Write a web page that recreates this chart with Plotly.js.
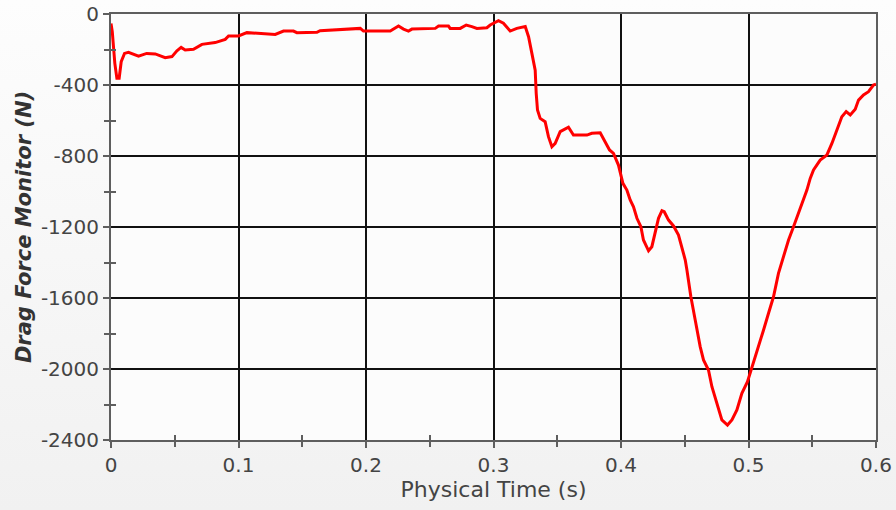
<!DOCTYPE html>
<html>
<head>
<meta charset="utf-8">
<script src="https://cdn.plot.ly/plotly-3.0.1.min.js"></script>
<style>
  html, body { margin: 0; padding: 0; }
  body { width: 896px; height: 510px; background: linear-gradient(#fdfdfd, #f1f1f1); }
  #chart { width: 896px; height: 510px; }
</style>
</head>
<body>
<div id="chart"></div>
<script>
// Drag force monitor history (N) against physical time (s)
const timeS = [
  0.000, 0.001, 0.003, 0.0046, 0.0064, 0.008, 0.0106, 0.0137, 0.0216, 0.028,
  0.0347, 0.0425, 0.0478, 0.0517, 0.055, 0.0582, 0.0647, 0.0713, 0.0817, 0.0896,
  0.0922, 0.100, 0.1066, 0.1157, 0.1288, 0.1353, 0.1431, 0.1458, 0.1523, 0.1615,
  0.164, 0.186, 0.1955, 0.198, 0.219, 0.2255, 0.2294, 0.2333, 0.236, 0.2543,
  0.2569, 0.2647, 0.266, 0.2739, 0.2786, 0.283, 0.287, 0.2948, 0.2974, 0.3039,
  0.3078, 0.3131, 0.3183, 0.3249, 0.3275, 0.3301, 0.3327, 0.3335, 0.3345, 0.3366,
  0.3405, 0.3431, 0.3458, 0.3484, 0.3523, 0.3588, 0.3627, 0.3733, 0.3771, 0.3837,
  0.3876, 0.391, 0.3941, 0.398, 0.4015, 0.4046, 0.4072, 0.4098, 0.4125, 0.4156,
  0.4176, 0.4216, 0.4242, 0.4268, 0.4294, 0.4321, 0.4339, 0.4373, 0.4412, 0.4451,
  0.4478, 0.4504, 0.4517, 0.4548, 0.4582, 0.4621, 0.4647, 0.4686, 0.4713, 0.4752,
  0.4791, 0.4835, 0.487, 0.4909, 0.4948, 0.4992, 0.5027, 0.5071, 0.5118, 0.5157,
  0.5196, 0.5235, 0.5275, 0.5314, 0.5353, 0.5392, 0.5419, 0.5458, 0.5484, 0.551,
  0.5562, 0.5615, 0.5654, 0.5693, 0.5732, 0.5766, 0.5798, 0.5837, 0.5863, 0.5902,
  0.5941, 0.598, 0.600
];
const dragForceN = [
  -53, -100, -278, -362, -362, -269, -222, -216, -237, -222,
  -225, -246, -240, -207, -188, -203, -199, -171, -161, -143,
  -124, -124, -105, -109, -115, -96, -96, -105, -105, -103,
  -94, -86, -81, -96, -96, -68, -85, -96, -85, -81,
  -68, -68, -81, -81, -62, -71, -81, -77, -62, -38,
  -52, -96, -81, -71, -128, -222, -316, -447, -541, -588,
  -607, -691, -748, -729, -663, -638, -682, -682, -672, -669,
  -719, -766, -785, -851, -954, -992, -1048, -1086, -1151, -1198,
  -1273, -1334, -1311, -1236, -1151, -1108, -1114, -1161, -1194, -1245,
  -1320, -1386, -1442, -1593, -1724, -1874, -1949, -2006, -2100, -2193,
  -2287, -2316, -2287, -2231, -2137, -2072, -1987, -1893, -1780, -1686,
  -1593, -1461, -1358, -1273, -1198, -1123, -1067, -992, -926, -879,
  -823, -794, -729, -654, -579, -550, -569, -537, -485, -456,
  -438, -400, -395
];

// Tick positions and labels
const xTickVals = [0, 0.1, 0.2, 0.3, 0.4, 0.5, 0.6];
const xTickText = ['0', '0.1', '0.2', '0.3', '0.4', '0.5', '0.6'];
const xMinorVals = [0.05, 0.15, 0.25, 0.35, 0.45, 0.55];
const yTickVals = [0, -400, -800, -1200, -1600, -2000, -2400];
const yTickText = ['0', '-400', '-800', '-1200', '-1600', '-2000', '-2400'];
const yMinorVals = [-200, -600, -1000, -1400, -1800, -2200];

const font = 'DejaVu Sans, Verdana, sans-serif';
const axisLine = '#5e5e5e';

const traces = [
  {
    x: timeS, y: dragForceN, type: 'scatter', mode: 'lines',
    line: { color: '#ff0000', width: 3 },
    hoverinfo: 'skip', showlegend: false
  },
  // empty trace that carries the inner half of the minor tick marks
  { x: [], y: [], xaxis: 'x2', yaxis: 'y2', type: 'scatter', mode: 'lines', showlegend: false }
];

const layout = {
  width: 896, height: 510,
  margin: { l: 111, r: 20, t: 14, b: 70 },
  paper_bgcolor: 'rgba(0,0,0,0)',
  plot_bgcolor: '#fcfcfc',
  showlegend: false,
  font: { family: font, size: 20, color: '#444' },
  xaxis: {
    range: [0, 0.6], fixedrange: true,
    tickvals: xTickVals, ticktext: xTickText,
    ticks: 'outside', ticklen: 6, tickwidth: 2, tickcolor: axisLine,
    minor: { tickvals: xMinorVals, ticks: 'outside', ticklen: 5, tickwidth: 2, tickcolor: axisLine, showgrid: false },
    showgrid: true, gridcolor: '#111', gridwidth: 2,
    showline: true, linecolor: axisLine, linewidth: 2, mirror: true,
    zeroline: false,
    tickfont: { family: font, size: 20, color: '#444' },
    title: { text: 'Physical Time (s)', font: { family: font, size: 22, color: '#444' }, standoff: 6 }
  },
  yaxis: {
    range: [-2400, 0], fixedrange: true,
    tickvals: yTickVals, ticktext: yTickText,
    ticks: 'outside', ticklen: 6, tickwidth: 2, tickcolor: axisLine,
    minor: { tickvals: yMinorVals, ticks: 'outside', ticklen: 5, tickwidth: 2, tickcolor: axisLine, showgrid: false },
    showgrid: true, gridcolor: '#111', gridwidth: 2,
    showline: true, linecolor: axisLine, linewidth: 2, mirror: true,
    zeroline: false,
    tickfont: { family: font, size: 20, color: '#444' },
    title: { text: '<b><i>Drag Force Monitor (N)</i></b>', font: { family: font, size: 21, color: '#333' }, standoff: 4 }
  },
  xaxis2: {
    overlaying: 'x', anchor: 'y2', side: 'bottom', range: [0, 0.6], fixedrange: true,
    tickvals: xMinorVals, ticks: 'inside', ticklen: 5, tickwidth: 2, tickcolor: axisLine,
    showticklabels: false, showgrid: false, showline: false, zeroline: false
  },
  yaxis2: {
    overlaying: 'y', anchor: 'x2', side: 'left', range: [-2400, 0], fixedrange: true,
    tickvals: yMinorVals, ticks: 'inside', ticklen: 5, tickwidth: 2, tickcolor: axisLine,
    showticklabels: false, showgrid: false, showline: false, zeroline: false
  }
};

Plotly.newPlot('chart', traces, layout, { displayModeBar: false, staticPlot: true });
</script>
</body>
</html>
